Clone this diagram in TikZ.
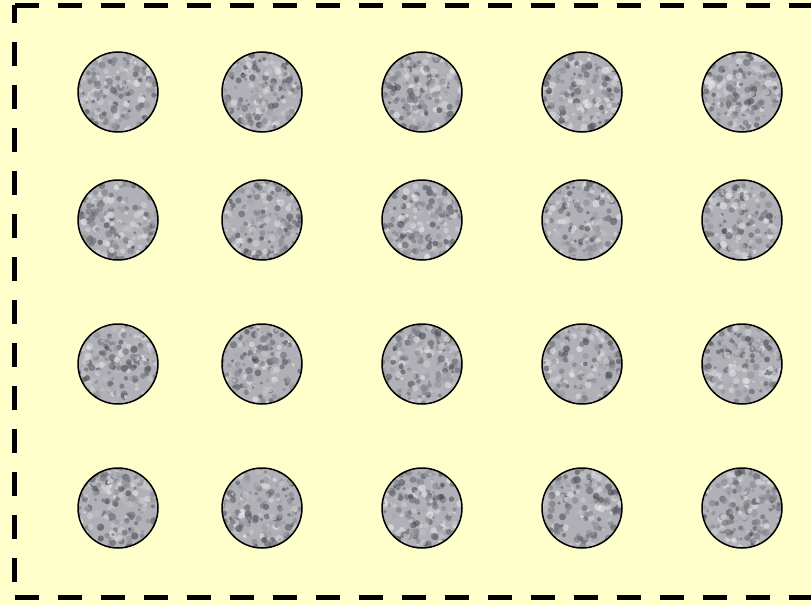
\documentclass[tikz,border=0pt]{standalone}
\definecolor{paper}{RGB}{255,255,204}
\definecolor{darkstone}{RGB}{70,70,78}
\definecolor{lightstone}{RGB}{238,238,242}
\definecolor{midstone}{RGB}{176,176,182}
\begin{document}
\begin{tikzpicture}[x=1pt, y=-1pt]
    \tikzset{
      frame line/.style={line width=5pt, dash pattern=on 24pt off 19pt},
      stone/.style={circle, draw=black, line width=1.5pt, minimum size=80pt,
        inner sep=0pt, fill=midstone,
        path picture={
          \foreach \k in {1,...,260}{
            \pgfmathsetmacro\g{int(100*rnd)}
            \pgfmathsetmacro\dx{42*rand}
            \pgfmathsetmacro\dy{42*rand}
            \pgfmathsetmacro\rr{1.5+2.3*rnd}
            \fill[lightstone!\g!darkstone, opacity=0.6]
              ([xshift=\dx pt, yshift=\dy pt]path picture bounding box.center)
              circle (\rr pt);
          }
        }}
    }
    \pgfmathsetseed{4711}

    % Canvas
    \useasboundingbox (0,0) rectangle (811,605);
    \fill[paper] (0,0) rectangle (811,605);
    \clip (0,0) rectangle (811,605);

    % Dashed frame (right side runs off the page)
    \draw[frame line] (14.5,5) -- (830,5);
    \draw[frame line, dash phase=6pt] (14.5,5) -- (14.5,597);
    \draw[frame line] (14.5,597) -- (830,597);

    % Stones, four rows of five
    \foreach \y [count=\r] in {92,220,364,508}{
      \foreach \x [count=\c] in {118,262,422,582,742}{
        \node[stone] (s\r\c) at (\x,\y) {};
      }
    }
\end{tikzpicture}
\end{document}
